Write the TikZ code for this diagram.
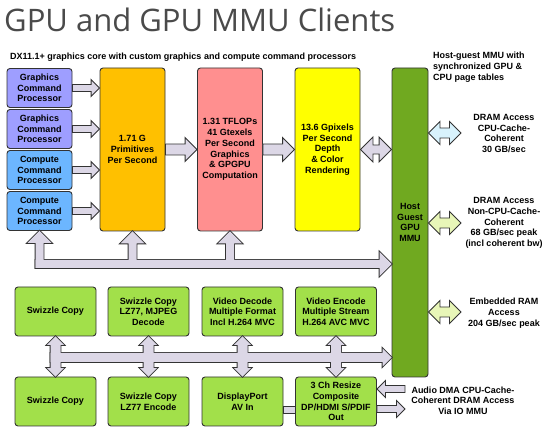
\documentclass[tikz,border=0pt]{standalone}
\usepackage{fontspec}
\setmainfont{Liberation Sans}
\newfontfamily\titlefont{Open Sans}
\usetikzlibrary{calc}
\definecolor{ink}{HTML}{333333}
\definecolor{titlegray}{HTML}{4A4A4A}
\definecolor{gfxblue}{HTML}{9E9EFF}
\definecolor{cmpblue}{HTML}{6CB6FF}
\definecolor{primorange}{HTML}{FFC000}
\definecolor{texpink}{HTML}{FF8F8F}
\definecolor{pixyellow}{HTML}{FFFF00}
\definecolor{mmugreen}{HTML}{70A920}
\definecolor{engreen}{HTML}{A2E04A}
\definecolor{buslav}{HTML}{DCD7E6}
\definecolor{dramblue}{HTML}{D8F2FC}
\definecolor{ramgreen}{HTML}{E8F6B8}
\tikzset{
  every node/.style={font=\fontsize{9}{10.7}\selectfont\bfseries},
  blockbox/.style={rounded corners=3pt,draw=ink,line width=0.9pt,align=center,inner sep=1pt},
  cpbox/.style={blockbox,minimum width=65pt,minimum height=39pt},
  tallbox/.style={blockbox,minimum width=65pt,minimum height=163pt},
  engine/.style={blockbox,fill=engreen,minimum width=81pt,minimum height=49pt},
  sidetext/.style={align=center,inner sep=0pt},
  fatline/.style={draw=ink,line width=0.9pt,fill=buslav,line join=miter},
  busline/.style={draw=ink,line width=1.8pt,line join=miter},
  busfill/.style={fill=buslav},
}
% fat arrow: [style]{from}{to}{shaft half}{head half}
\newcommand{\fatarrow}[5][fatline]{%
  \path[#1] let \p1=#2, \p2=#3, \n1={veclen(\x2-\x1,\y2-\y1)}, \n2={atan2(\y2-\y1,\x2-\x1)} in
    [shift={(\x1,\y1)},rotate=\n2]
    (0,-#4) -- (\n1-#5,-#4) -- (\n1-#5,-#5) -- (\n1,0) -- (\n1-#5,#5) -- (\n1-#5,#4) -- (0,#4) -- cycle;}
\newcommand{\fatdouble}[5][fatline]{%
  \path[#1] let \p1=#2, \p2=#3, \n1={veclen(\x2-\x1,\y2-\y1)}, \n2={atan2(\y2-\y1,\x2-\x1)} in
    [shift={(\x1,\y1)},rotate=\n2]
    (0,0) -- (#5,-#5) -- (#5,-#4) -- (\n1-#5,-#4) -- (\n1-#5,-#5) -- (\n1,0)
    -- (\n1-#5,#5) -- (\n1-#5,#4) -- (#5,#4) -- (#5,#5) -- cycle;}

\begin{document}
\begin{tikzpicture}[x=1pt,y=-1pt]
  \useasboundingbox (0,0) rectangle (547,430);
  % headings
  \node[anchor=base west,inner sep=0,font=\titlefont\fontsize{31}{34}\selectfont,text=titlegray] (title) at (4,32) {GPU and GPU MMU Clients};
  \node[anchor=base west,inner sep=0] (core) at (10,60) {DX11.1+ graphics core with custom graphics and compute command processors};
  \node[anchor=north west,align=left,inner sep=0] (hostnote) at (433,52) {Host-guest MMU with\\synchronized GPU \&\\CPU page tables};

  % command processors
  \node[cpbox,fill=gfxblue] (gcpA) at (39.5,88) {Graphics\\Command\\Processor};
  \node[cpbox,fill=gfxblue] (gcpB) at (39.5,129) {Graphics\\Command\\Processor};
  \node[cpbox,fill=cmpblue] (ccpA) at (39.5,170) {Compute\\Command\\Processor};
  \node[cpbox,fill=cmpblue] (ccpB) at (39.5,211) {Compute\\Command\\Processor};

  % pipeline
  \node[tallbox,fill=primorange] (prim) at (132.5,149.5) {1.71 G\\Primitives\\Per Second};
  \node[tallbox,fill=texpink] (alu) at (230,149.5) {1.31 TFLOPs\\41 Gtexels\\Per Second\\Graphics\\\& GPGPU\\Computation};
  \node[tallbox,fill=pixyellow] (rop) at (327.5,149.5) {13.6 Gpixels\\Per Second\\Depth\\\& Color\\Rendering};
  \node[blockbox,fill=mmugreen,minimum width=36pt,minimum height=309pt] (mmu) at (410,222.5) {Host\\Guest\\GPU\\MMU};

  % engines
  \node[engine] (swzA) at (55.5,311.5) {Swizzle Copy};
  \node[engine] (lzdec) at (148.5,311.5) {Swizzle Copy\\LZ77, MJPEG\\Decode};
  \node[engine] (vdec) at (242.5,311.5) {Video Decode\\Multiple Format\\Incl H.264 MVC};
  \node[engine] (venc) at (336,311.5) {Video Encode\\Multiple Stream\\H.264 AVC MVC};
  \node[engine] (swzB) at (55.5,401.5) {Swizzle Copy};
  \node[engine] (lzenc) at (148.5,401.5) {Swizzle Copy\\LZ77 Encode};
  \node[engine] (dpin) at (242.5,401.5) {DisplayPort\\AV In};
  \node[engine] (resize) at (336,401.5) {3 Ch Resize\\Composite\\DP/HDMI S/PDIF\\Out};

  % side notes
  \node[sidetext] (dramA) at (504,133.5) {DRAM Access\\CPU-Cache-\\Coherent\\30 GB/sec};
  \node[sidetext] (dramB) at (504,223) {DRAM Access\\Non-CPU-Cache-\\Coherent\\68 GB/sec peak\\(incl coherent bw)};
  \node[sidetext] (esram) at (504,313) {Embedded RAM\\Access\\204 GB/sec peak};
  \node[sidetext] (audio) at (463,400.5) {Audio DMA CPU-Cache-\\Coherent DRAM Access\\Via IO MMU};

  \coordinate (upbus) at (0,264);
  \coordinate (lowbus) at (0,357.5);
  \coordinate (linkA) at (461,133);
  \coordinate (linkB) at (461,223);
  \coordinate (linkC) at (461,312);
  \coordinate (audioin) at (405,389);
  \coordinate (avout) at (405,409);

  % buses (outline first, then fill)
  \foreach \pass in {busline,busfill}{
    \fatarrow[\pass]{($(ccpB.south |- upbus)+(-4,0)$)}{(mmu.west |- upbus)}{4}{12}
    \fatarrow[\pass]{($(ccpB.south |- upbus)+(0,4)$)}{(ccpB.south)}{4}{12}
    \fatarrow[\pass]{(prim.south |- upbus)}{(prim.south)}{4}{12}
    \fatarrow[\pass]{(alu.south |- upbus)}{(alu.south)}{4}{12}
    \fatarrow[\pass]{($(swzA.south |- lowbus)+(-5,0)$)}{(mmu.west |- lowbus)}{4.5}{9}
    \fatdouble[\pass]{(swzA.south)}{(swzB.north)}{5}{8.5}
    \fatdouble[\pass]{(lzdec.south)}{(lzenc.north)}{5}{8.5}
    \fatdouble[\pass]{(vdec.south)}{(dpin.north)}{5}{8.5}
    \fatdouble[\pass]{(venc.south)}{(resize.north)}{5}{8.5}
  }

  % pipeline arrows
  \foreach \cp in {gcpA,gcpB,ccpA,ccpB}
    \fatarrow{(\cp.east)}{(prim.west |- \cp.east)}{3.5}{8.5};
  \fatarrow{(prim.east)}{(alu.west)}{5.5}{12}
  \fatarrow{(alu.east)}{(rop.west)}{5.5}{12}
  \fatdouble{(rop.east)}{(mmu.west |- rop.east)}{4.5}{12.5}

  % memory links
  \fatdouble[fatline,fill=dramblue]{(mmu.east |- linkA)}{(linkA)}{5}{11.5}
  \fatdouble[fatline,fill=ramgreen]{(mmu.east |- linkB)}{(linkB)}{5}{11.5}
  \fatdouble[fatline,fill=ramgreen]{(mmu.east |- linkC)}{(linkC)}{5}{11.5}

  % display / audio
  \path[fatline] ($(dpin.east)+(0,4.5)$) rectangle ($(resize.west)+(0,11.5)$);
  \fatarrow{(audioin)}{(resize.east |- audioin)}{3.5}{8.5}
  \fatarrow{(resize.east |- avout)}{(avout)}{3.5}{8.5}
\end{tikzpicture}
\end{document}
